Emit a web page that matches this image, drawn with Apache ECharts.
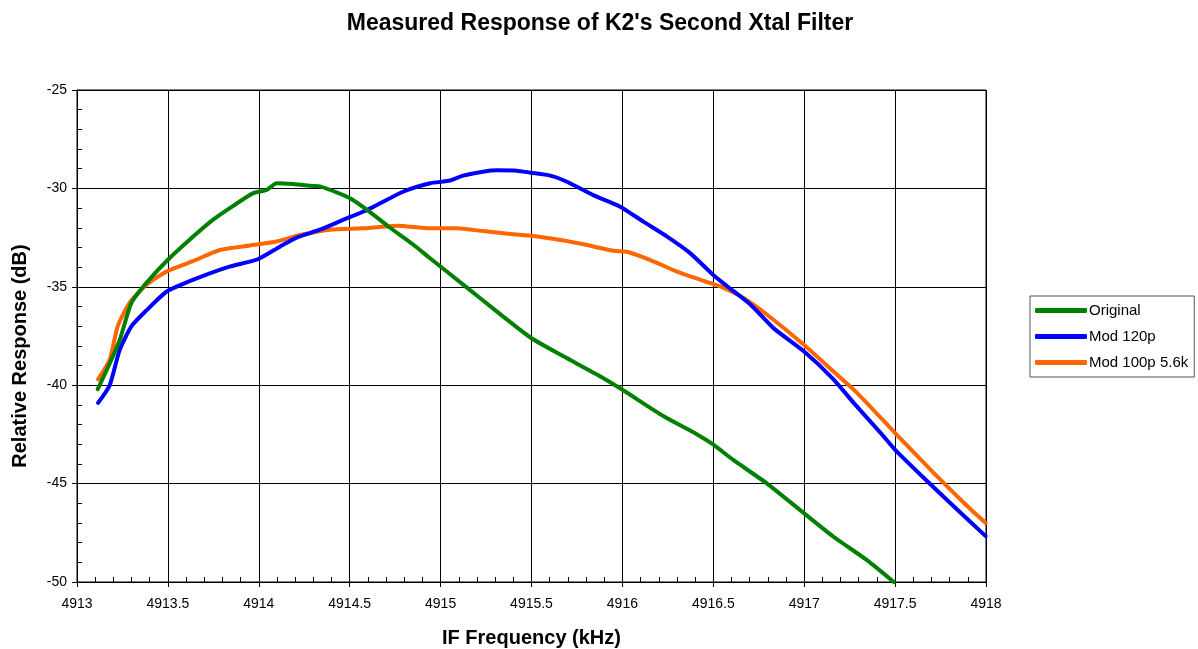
<!DOCTYPE html>
<html>
<head>
<meta charset="utf-8">
<script src="https://cdn.jsdelivr.net/npm/echarts@6/dist/echarts.min.js"></script>
<style>
html,body{margin:0;padding:0;background:#fff;}
#chart{width:1198px;height:649px;}
</style>
</head>
<body>
<div id="chart"></div>
<script>
const titleText = "Measured Response of K2's Second Xtal Filter";
const xAxisName = "IF Frequency (kHz)";
const yAxisName = "Relative Response (dB)";
const seriesNames = ["Original", "Mod 120p", "Mod 100p 5.6k"];

// [kHz, dB]
const originalData = [
  [4913.114,-40.2],[4913.18,-38.9],[4913.235,-37.7],[4913.30,-35.8],[4913.382,-34.8],
  [4913.492,-33.7],[4913.639,-32.45],[4913.747,-31.6],[4913.857,-30.9],[4913.967,-30.25],
  [4914.043,-30.08],[4914.098,-29.74],[4914.188,-29.78],[4914.298,-29.88],[4914.336,-29.9],
  [4914.428,-30.2],[4914.502,-30.5],[4914.612,-31.2],[4914.722,-32.0],[4914.849,-32.85],
  [4914.942,-33.55],[4915.126,-34.9],[4915.31,-36.26],[4915.498,-37.6],[4915.676,-38.53],
  [4915.86,-39.46],[4915.998,-40.22],[4916.227,-41.58],[4916.411,-42.5],[4916.497,-43.0],
  [4916.61,-43.8],[4916.796,-45.0],[4916.998,-46.5],[4917.161,-47.7],[4917.347,-48.9],
  [4917.493,-50.0]
];
const mod120Data = [
  [4913.116,-40.9],[4913.18,-40.0],[4913.235,-38.2],[4913.30,-37.0],[4913.382,-36.2],
  [4913.492,-35.25],[4913.637,-34.65],[4913.83,-34.0],[4913.995,-33.6],[4914.116,-32.96],
  [4914.208,-32.5],[4914.336,-32.1],[4914.463,-31.6],[4914.557,-31.25],[4914.628,-30.95],
  [4914.793,-30.17],[4914.942,-29.74],[4915.052,-29.6],[4915.124,-29.35],[4915.234,-29.15],
  [4915.31,-29.08],[4915.42,-29.1],[4915.493,-29.2],[4915.603,-29.35],[4915.695,-29.66],
  [4915.84,-30.34],[4915.988,-30.93],[4916.115,-31.69],[4916.246,-32.45],[4916.374,-33.3],
  [4916.5,-34.4],[4916.576,-34.97],[4916.704,-35.9],[4916.831,-37.1],[4916.998,-38.28],
  [4917.161,-39.7],[4917.272,-40.9],[4917.42,-42.42],[4917.499,-43.27],[4917.677,-44.88],
  [4917.822,-46.15],[4917.998,-47.67]
];
const mod100Data = [
  [4913.116,-39.7],[4913.18,-38.7],[4913.224,-37.0],[4913.29,-35.8],[4913.382,-34.9],
  [4913.492,-34.23],[4913.637,-33.7],[4913.786,-33.13],[4913.951,-32.9],[4914.098,-32.7],
  [4914.226,-32.37],[4914.391,-32.1],[4914.573,-32.03],[4914.759,-31.9],[4914.942,-32.03],
  [4915.089,-32.03],[4915.234,-32.17],[4915.383,-32.32],[4915.51,-32.42],[4915.659,-32.62],
  [4915.786,-32.84],[4915.951,-33.17],[4916.025,-33.22],[4916.154,-33.64],[4916.301,-34.23],
  [4916.446,-34.7],[4916.539,-34.98],[4916.666,-35.57],[4916.796,-36.42],[4916.998,-37.94],
  [4917.161,-39.3],[4917.292,-40.4],[4917.499,-42.42],[4917.712,-44.45],[4917.898,-46.15],
  [4917.998,-47.0]
];
const seriesColors = ["#008000", "#0000FF", "#FF6600"];
const xMin = 4913, xMax = 4918, xStep = 0.5;
const yMin = -50, yMax = -25, yStep = 5;

const FONT = "Arial, 'Liberation Sans', sans-serif";
const chart = echarts.init(document.getElementById('chart'), null, {renderer: 'canvas'});

const baseX = {
  type: 'value', min: xMin, max: xMax, interval: xStep, position: 'bottom', offset: 0,
  axisLine: {show: true, onZero: false, lineStyle: {color: '#000', width: 1}},
  splitLine: {show: true, lineStyle: {color: '#000', width: 1}},
};
const baseY = {
  type: 'value', min: yMin, max: yMax, interval: yStep, position: 'left', offset: 0,
  axisLine: {show: true, onZero: false, lineStyle: {color: '#000', width: 1}},
  splitLine: {show: true, lineStyle: {color: '#000', width: 1}},
};

const option = {
  animation: false,
  backgroundColor: '#fff',
  title: {
    text: titleText, left: 595, top: 7, textAlign: 'center',
    textStyle: {fontFamily: FONT, fontSize: 23, fontWeight: 'bold', color: '#000'}
  },
  grid: {
    left: 77, right: 212, top: 90, bottom: 67,
    outerBoundsMode: 'none', containLabel: false,
    show: true, borderColor: '#000', borderWidth: 1, backgroundColor: 'transparent'
  },
  legend: {
    orient: 'vertical', left: 1030, top: 296,
    data: seriesNames,
    backgroundColor: '#fff', borderColor: '#555', borderWidth: 1,
    padding: [7, 6, 7, 5], itemGap: 11, itemWidth: 52, itemHeight: 5,
    icon: 'roundRect',
    textStyle: {fontFamily: FONT, fontSize: 15, color: '#000', padding: [0, 0, 0, -3]}
  },
  xAxis: [
    Object.assign({}, baseX, {
      name: xAxisName, nameLocation: 'middle', nameGap: 46,
      nameTextStyle: {fontFamily: FONT, fontSize: 20, fontWeight: 'bold', color: '#000'},
      axisTick: {show: true, inside: false, length: 5, lineStyle: {color: '#000'}},
      axisLabel: {show: true, margin: 15, fontFamily: FONT, fontSize: 14, color: '#000',
        formatter: v => String(v)}
    }),
    Object.assign({}, baseX, {
      splitLine: {show: false},
      axisLine: {show: false},
      axisTick: {show: false, inside: true},
      axisLabel: {show: false},
      minorTick: {show: true, splitNumber: 5, length: 5, lineStyle: {color: '#000'}}
    })
  ],
  yAxis: [
    Object.assign({}, baseY, {
      name: yAxisName, nameLocation: 'middle', nameGap: 47,
      nameTextStyle: {fontFamily: FONT, fontSize: 20, fontWeight: 'bold', color: '#000',
        padding: [0, 40, 0, 0]},
      axisTick: {show: true, inside: false, length: 5, lineStyle: {color: '#000'}},
      axisLabel: {show: true, margin: 10, fontFamily: FONT, fontSize: 14, color: '#000',
        formatter: v => String(v)}
    }),
    Object.assign({}, baseY, {
      splitLine: {show: false},
      axisLine: {show: false},
      axisTick: {show: false, inside: true},
      axisLabel: {show: false},
      minorTick: {show: true, splitNumber: 5, length: 5, lineStyle: {color: '#000'}}
    })
  ],
  series: [originalData, mod120Data, mod100Data].map((d, i) => ({
    name: seriesNames[i], type: 'line', data: d,
    xAxisIndex: 0, yAxisIndex: 0,
    showSymbol: false, symbol: 'none', smooth: 0.2,
    clip: true,
    color: seriesColors[i],
    lineStyle: {color: seriesColors[i], width: 4, cap: 'round', join: 'round'},
    z: 10 - i
  }))
};
chart.setOption(option);
</script>
</body>
</html>
